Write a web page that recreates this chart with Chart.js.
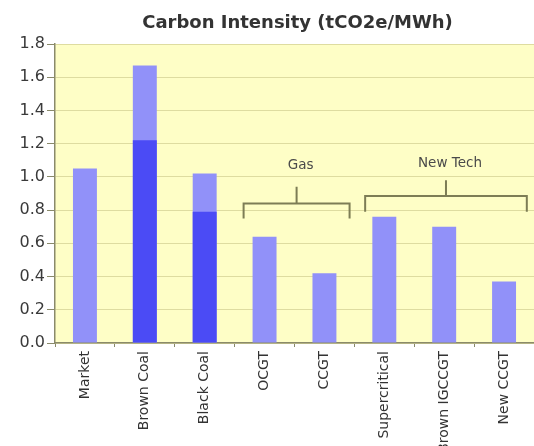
<!DOCTYPE html>
<html>
<head>
<meta charset="utf-8">
<script src="https://cdn.jsdelivr.net/npm/chart.js@4/dist/chart.umd.min.js"></script>
<style>
  html, body { margin: 0; padding: 0; background: #ffffff; }
  #wrap { width: 534px; height: 446px; }
</style>
</head>
<body>
<div id="wrap"><canvas id="c" width="534" height="446"></canvas></div>
<script>
// Generation technologies along the x axis
const categories = ["Market", "Brown Coal", "Black Coal", "OCGT", "CCGT",
                    "Supercritical", "Brown IGCCGT", "New CCGT"];

// Full bar height: emissions intensity, tCO2e per MWh
const totalIntensity = [1.05, 1.67, 1.02, 0.64, 0.42, 0.76, 0.70, 0.37];

// Darker lower section shown for the two coal types
const lowerSection = [null, 1.22, 0.79, null, null, null, null, null];

// Value-axis tick labels
const yTickValues = [0, 0.2, 0.4, 0.6, 0.8, 1.0, 1.2, 1.4, 1.6, 1.8];

// Bracketed groups of categories
const groupNames = ["Gas", "New Tech"];
const groupFirst = ["OCGT", "Supercritical"];
const groupLast  = ["CCGT", "New CCGT"];

const titleText = "Carbon Intensity (tCO2e/MWh)";

// Bracket geometry (category-width fractions and value levels)
const bracketStyle = [
  { padLeft: 0.35, padRight: 0.42, bar: 0.84, legs: 0.75, stem: 0.94, text: 1.07 },
  { padLeft: 0.32, padRight: 0.38, bar: 0.885, legs: 0.79, stem: 0.98, text: 1.08 }
];

const plotBackground = {
  id: "plotBackground",
  beforeDraw(chart) {
    const { ctx, chartArea: a } = chart;
    ctx.save();
    ctx.fillStyle = "#fefec6";
    ctx.fillRect(a.left, a.top, a.right - a.left, a.bottom - a.top);
    ctx.restore();
  }
};

const titleAndBrackets = {
  id: "titleAndBrackets",
  afterDraw(chart) {
    const { ctx, chartArea: a } = chart;
    const x = chart.scales.x, y = chart.scales.y;
    ctx.save();
    ctx.fillStyle = "#333333";
    ctx.font = "bold 18px 'DejaVu Sans'";
    ctx.textAlign = "center";
    ctx.textBaseline = "middle";
    ctx.fillText(titleText, (a.left + a.right) / 2 + 3, 23);

    const catW = (x.getPixelForValue(1) - x.getPixelForValue(0));
    groupNames.forEach((name, i) => {
      const s = bracketStyle[i];
      const x1 = x.getPixelForValue(categories.indexOf(groupFirst[i])) - s.padLeft * catW;
      const x2 = x.getPixelForValue(categories.indexOf(groupLast[i])) + s.padRight * catW;
      const yb = y.getPixelForValue(s.bar);
      const yl = y.getPixelForValue(s.legs);
      const ys = y.getPixelForValue(s.stem);
      const xm = (x1 + x2) / 2;
      ctx.strokeStyle = "#7d7d55";
      ctx.lineWidth = 2;
      ctx.beginPath();
      ctx.moveTo(x1, yl); ctx.lineTo(x1, yb); ctx.lineTo(x2, yb); ctx.lineTo(x2, yl);
      ctx.moveTo(xm, yb); ctx.lineTo(xm, ys);
      ctx.stroke();
      ctx.fillStyle = "#4a4a4a";
      ctx.font = "13.5px 'DejaVu Sans'";
      ctx.fillText(name, xm + 4, y.getPixelForValue(s.text));
    });
    ctx.restore();
  }
};

new Chart(document.getElementById("c"), {
  type: "bar",
  data: {
    labels: categories,
    datasets: [
      {
        label: "Lower section",
        data: lowerSection,
        backgroundColor: "#4b4bf5",
        barPercentage: 0.4,
        categoryPercentage: 1.0
      },
      {
        label: "Carbon intensity",
        data: totalIntensity,
        backgroundColor: "#9191f9",
        barPercentage: 0.4,
        categoryPercentage: 1.0
      }
    ]
  },
  options: {
    responsive: false,
    animation: false,
    devicePixelRatio: 1,
    layout: { padding: { top: 44, right: 0, left: 0, bottom: 0 } },
    plugins: {
      legend: { display: false },
      title: { display: false },
      tooltip: { enabled: false }
    },
    scales: {
      x: {
        stacked: true,
        offset: true,
        grid: {
          offset: true,
          drawOnChartArea: false,
          drawTicks: true,
          tickLength: 4,
          color: "#8a8a6a"
        },
        border: { color: "#8a8a6a", width: 1.5 },
        ticks: {
          minRotation: 90,
          maxRotation: 90,
          autoSkip: false,
          color: "#333333",
          padding: 4,
          font: { family: "'DejaVu Sans'", size: 14 }
        },
        afterFit(scale) { scale.height = 103; }
      },
      y: {
        stacked: false,
        min: 0,
        max: 1.8,
        afterBuildTicks(scale) { scale.ticks = yTickValues.map(v => ({ value: v })); },
        grid: {
          color: "#dedca0",
          tickLength: 8,
          tickColor: "#8a8a6a"
        },
        border: { color: "#8a8a6a", width: 1.5 },
        ticks: {
          color: "#3a3a3a",
          padding: 2,
          font: { family: "'DejaVu Sans'", size: 16 },
          callback: v => Number(v).toFixed(1)
        },
        afterFit(scale) { scale.width = 55; }
      }
    }
  },
  plugins: [plotBackground, titleAndBrackets]
});
</script>
</body>
</html>
